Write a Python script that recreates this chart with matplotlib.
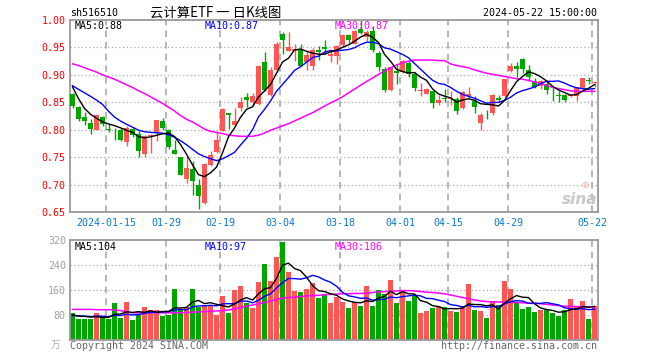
import matplotlib
matplotlib.use('Agg')
import matplotlib.pyplot as plt
import numpy as np

# ---------------- data ----------------
tick_pos = [6, 16, 25, 35, 45, 55, 63, 73, 87]
tick_labels = ['2024-01-15', '01-29', '02-19', '03-04', '03-18', '04-01', '04-15', '04-29', '05-22']

opens = [0.866, 0.842, 0.824, 0.813, 0.799, 0.824, 0.801, 0.800, 0.799, 0.777,
         0.801, 0.793, 0.756, 0.789, 0.796, 0.815, 0.800, 0.763, 0.750, 0.711,
         0.728, 0.699, 0.666, 0.736, 0.760, 0.798, 0.830, 0.809, 0.840, 0.859,
         0.851, 0.847, 0.924, 0.864, 0.908, 0.974, 0.944, 0.944, 0.946, 0.923,
         0.916, 0.945, 0.950, 0.935, 0.934, 0.954, 0.972, 0.957, 0.984, 0.969,
         0.980, 0.940, 0.910, 0.872, 0.907, 0.905, 0.922, 0.902, 0.871, 0.866,
         0.870, 0.848, 0.858, 0.856, 0.856, 0.839, 0.862, 0.853, 0.813, 0.829,
         0.830, 0.857, 0.862, 0.907, 0.917, 0.929, 0.909, 0.889, 0.880, 0.883,
         0.864, 0.863, 0.863, 0.862, 0.862, 0.874, 0.890, 0.885]
closes = [0.843, 0.819, 0.815, 0.802, 0.826, 0.810, 0.800, 0.799, 0.782, 0.804,
          0.790, 0.762, 0.788, 0.791, 0.818, 0.804, 0.769, 0.756, 0.718, 0.730,
          0.707, 0.680, 0.737, 0.753, 0.782, 0.837, 0.827, 0.816, 0.851, 0.854,
          0.861, 0.916, 0.872, 0.909, 0.957, 0.963, 0.951, 0.947, 0.917, 0.937,
          0.946, 0.941, 0.947, 0.938, 0.952, 0.973, 0.963, 0.980, 0.976, 0.978,
          0.946, 0.915, 0.872, 0.914, 0.904, 0.925, 0.902, 0.876, 0.873, 0.874,
          0.848, 0.855, 0.856, 0.858, 0.834, 0.868, 0.866, 0.842, 0.827, 0.828,
          0.864, 0.855, 0.892, 0.916, 0.911, 0.911, 0.897, 0.877, 0.888, 0.872,
          0.863, 0.862, 0.854, 0.864, 0.877, 0.894, 0.889, 0.887]
highs = [0.867, 0.843, 0.832, 0.819, 0.828, 0.825, 0.811, 0.804, 0.804, 0.806,
         0.803, 0.798, 0.791, 0.793, 0.818, 0.822, 0.801, 0.782, 0.750, 0.750,
         0.743, 0.711, 0.739, 0.761, 0.795, 0.840, 0.830, 0.840, 0.859, 0.867,
         0.867, 0.918, 0.941, 0.914, 0.959, 0.978, 0.978, 0.956, 0.957, 0.946,
         0.949, 0.952, 0.963, 0.943, 0.954, 0.975, 0.975, 0.981, 1.000, 0.982,
         0.989, 0.944, 0.915, 0.915, 0.920, 0.927, 0.925, 0.905, 0.885, 0.876,
         0.871, 0.864, 0.874, 0.871, 0.860, 0.870, 0.877, 0.861, 0.831, 0.836,
         0.866, 0.864, 0.892, 0.921, 0.923, 0.931, 0.918, 0.894, 0.891, 0.888,
         0.876, 0.871, 0.866, 0.866, 0.878, 0.894, 0.896, 0.889]
lows = [0.839, 0.815, 0.808, 0.793, 0.799, 0.806, 0.796, 0.781, 0.780, 0.770,
        0.787, 0.750, 0.750, 0.758, 0.780, 0.799, 0.765, 0.755, 0.717, 0.703,
        0.681, 0.656, 0.664, 0.733, 0.758, 0.798, 0.802, 0.807, 0.834, 0.842,
        0.844, 0.845, 0.870, 0.862, 0.905, 0.938, 0.943, 0.926, 0.916, 0.908,
        0.908, 0.927, 0.938, 0.924, 0.920, 0.953, 0.958, 0.956, 0.975, 0.962,
        0.941, 0.907, 0.869, 0.870, 0.883, 0.903, 0.897, 0.871, 0.862, 0.865,
        0.840, 0.845, 0.850, 0.845, 0.829, 0.838, 0.858, 0.831, 0.799, 0.819,
        0.827, 0.850, 0.860, 0.905, 0.897, 0.903, 0.888, 0.876, 0.874, 0.865,
        0.853, 0.851, 0.850, 0.859, 0.853, 0.872, 0.883, 0.877]
# closes of the 9 sessions before the first visible bar (for MA5 / MA10)
pre_closes = [0.885, 0.878, 0.866, 0.895, 0.888, 0.925, 0.905, 0.855, 0.862]
ma30_price = [0.920, 0.917, 0.913, 0.909, 0.905, 0.900, 0.896, 0.892, 0.887, 0.882,
              0.877, 0.871, 0.866, 0.860, 0.854, 0.848, 0.841, 0.834, 0.826, 0.819,
              0.814, 0.808, 0.801, 0.797, 0.795, 0.793, 0.790, 0.789, 0.788, 0.788,
              0.788, 0.790, 0.794, 0.799, 0.803, 0.807, 0.811, 0.816, 0.821, 0.826,
              0.831, 0.837, 0.843, 0.849, 0.854, 0.860, 0.867, 0.874, 0.881, 0.888,
              0.894, 0.901, 0.907, 0.913, 0.918, 0.922, 0.925, 0.927, 0.927, 0.927,
              0.927, 0.926, 0.926, 0.920, 0.917, 0.915, 0.913, 0.909, 0.906, 0.903,
              0.901, 0.899, 0.897, 0.895, 0.893, 0.892, 0.890, 0.887, 0.884, 0.881,
              0.877, 0.875, 0.873, 0.871, 0.870, 0.870, 0.870, 0.870]

volumes = [86, 67, 67, 67, 86, 74, 67, 118, 70, 122,
           64, 80, 106, 96, 96, 78, 80, 163, 95, 106,
           163, 106, 112, 110, 80, 141, 86, 160, 173, 118,
           102, 185, 243, 189, 266, 314, 218, 157, 154, 163,
           181, 134, 144, 118, 139, 122, 102, 122, 109, 173,
           109, 160, 147, 192, 118, 157, 125, 144, 86, 93,
           102, 109, 106, 93, 90, 109, 179, 96, 93, 70,
           125, 112, 189, 163, 122, 99, 106, 90, 96, 96,
           86, 77, 96, 131, 106, 125, 67, 109]
pre_volumes = [80, 75, 82, 70, 76, 85, 72, 78, 80]
ma30_volume = [98, 98, 98, 98, 97, 97, 97, 96, 94, 90,
               87, 87, 87, 87, 87, 87, 87, 87, 87, 88,
               89, 90, 91, 92, 93, 94, 96, 100, 104, 108,
               112, 116, 120, 125, 130, 134, 136, 137, 139, 141,
               142, 143, 145, 146, 147, 148, 148, 149, 149, 150,
               152, 154, 155, 156, 157, 158, 158, 157, 155, 153,
               152, 150, 148, 144, 140, 136, 132, 128, 125, 123,
               122, 122, 121, 121, 120, 119, 118, 118, 116, 114,
               112, 110, 108, 108, 107, 107, 106, 106]

price_ticks = [0.65, 0.70, 0.75, 0.80, 0.85, 0.90, 0.95, 1.00]
volume_ticks = [80, 160, 240, 320]

# ---------------- styling ----------------
RED = '#ff5555'
GREEN = '#00a600'
GRID = '#aaaaaa'
FRAME = '#999999'
MONO = 'DejaVu Sans Mono'
FS = 7.2

plt.rcParams['font.family'] = ['Noto Sans CJK SC', 'DejaVu Sans']


def sma(series, n):
    return np.convolve(np.asarray(series, float), np.ones(n) / n, mode='valid')


n = len(closes)
x = np.arange(n)
o = np.array(opens); c = np.array(closes); h = np.array(highs); l = np.array(lows)
up = c >= o
colors = np.where(up, RED, GREEN)

full_c = np.concatenate([pre_closes, closes])
ma5 = sma(full_c, 5)[-n:]
ma10 = sma(full_c, 10)[-n:]
full_v = np.concatenate([pre_volumes, volumes])
vma5 = sma(full_v, 5)[-n:]
vma10 = sma(full_v, 10)[-n:]

W, H = 660, 360
fig = plt.figure(figsize=(6.6, 3.6), dpi=100)
fig.patch.set_facecolor('white')

left_px, right_px = 70, 598
ax = fig.add_axes([left_px / W, 1 - 212 / H, (right_px - left_px) / W, 192 / H])
axv = fig.add_axes([left_px / W, 1 - 340 / H, (right_px - left_px) / W, 100 / H])

xlo, xhi = -5 / 12, n - 5 / 12
grid_x = np.array(tick_pos) - 5 / 12

for a in (ax, axv):
    a.set_xlim(xlo, xhi)
    for s in a.spines.values():
        s.set_color(FRAME)
        s.set_linewidth(1.3)
    for gx in grid_x:
        a.axvline(gx, color=GRID, lw=1.2, ls=(0, (4, 3)), zorder=0)
    a.tick_params(length=0)

# ---- price panel ----
ax.set_ylim(0.65, 1.00)
for yv in price_ticks[1:-1]:
    ax.axhline(yv, color=GRID, lw=0.9, ls=(0, (1, 2)), zorder=0)
ax.vlines(x, l, h, colors=colors, lw=1.0, zorder=2)
body_h = np.maximum(np.abs(c - o), 0.0011)
ax.bar(x, body_h, bottom=np.minimum(o, c), width=0.75, color=colors, lw=0, zorder=3)
ax.plot(x, ma30_price, color='#ff00ff', lw=1.1, zorder=4)
ax.plot(x, ma10, color='#0000ff', lw=1.0, zorder=4)
ax.plot(x, ma5, color='black', lw=1.0, zorder=4)

ax.set_yticks(price_ticks)
ax.set_yticklabels([f'{t:.2f}' for t in price_ticks], color='#ff0000',
                   fontfamily=MONO, fontsize=FS)
ax.tick_params(axis='y', pad=3)
ax.set_xticks(grid_x)
ax.set_xticklabels(tick_labels, color='#0a7ad0', fontfamily=MONO, fontsize=FS)
ax.tick_params(axis='x', pad=4)

# ---- volume panel ----
axv.set_ylim(0, 320)
for yv in volume_ticks[:-1]:
    axv.axhline(yv, color=GRID, lw=0.9, ls=(0, (1, 2)), zorder=0)
axv.bar(x, volumes, width=0.83, color=colors, lw=0, zorder=2)
axv.plot(x, ma30_volume, color='#ff00ff', lw=1.1, zorder=4)
axv.plot(x, vma10, color='#0000ff', lw=1.0, zorder=4)
axv.plot(x, vma5, color='black', lw=1.0, zorder=4)
axv.set_yticks(volume_ticks)
axv.set_yticklabels([str(t) for t in volume_ticks], color='#a0a0a0',
                    fontfamily=MONO, fontsize=FS)
axv.tick_params(axis='y', pad=3)
axv.set_xticks([])


def ftext(px, py, s, **kw):
    fig.text(px / W, 1 - py / H, s, **kw)


# header
ftext(70, 13, 'sh516510', fontfamily=MONO, fontsize=FS, color='black', va='center', ha='left')
ftext(216, 13, '云计算ETF 一 日K线图', fontsize=9.6, color='black', va='center', ha='center',
      family=['Noto Sans CJK SC', 'DejaVu Sans'])
ftext(597, 13, '2024-05-22 15:00:00', fontfamily=MONO, fontsize=FS, color='black',
      va='center', ha='right')

# MA legends price
ftext(75, 26, 'MA5:0.88', fontfamily=MONO, fontsize=FS, color='black', va='center')
ftext(205, 26, 'MA10:0.87', fontfamily=MONO, fontsize=FS, color='#0000ff', va='center')
ftext(335, 26, 'MA30:0.87', fontfamily=MONO, fontsize=FS, color='#ff00ff', va='center')

# MA legends volume
ftext(75, 247, 'MA5:104', fontfamily=MONO, fontsize=FS, color='black', va='center')
ftext(205, 247, 'MA10:97', fontfamily=MONO, fontsize=FS, color='#0000ff', va='center')
ftext(335, 247, 'MA30:106', fontfamily=MONO, fontsize=FS, color='#ff00ff', va='center')

# footer
ftext(56, 345, '万', fontsize=7, color='#b0b0b0', va='center', ha='center',
      family=['Noto Sans CJK SC', 'DejaVu Sans'])
ftext(70, 346, 'Copyright 2024 SINA.COM', fontfamily=MONO, fontsize=FS, color='#666666',
      va='center', ha='left')
ftext(597, 346, 'http://finance.sina.com.cn', fontfamily=MONO, fontsize=FS, color='#666666',
      va='center', ha='right')

# watermark
ftext(580, 200, 'sina', fontsize=11, fontweight='bold', style='italic', color='#c8c8c8',
      va='center', ha='center', family=['DejaVu Sans'])
ftext(585, 184, '◎', fontsize=6, color='#f2a0a0', va='center', ha='center',
      family=['DejaVu Sans'])

fig.savefig('out.png', dpi=100, facecolor='white')
